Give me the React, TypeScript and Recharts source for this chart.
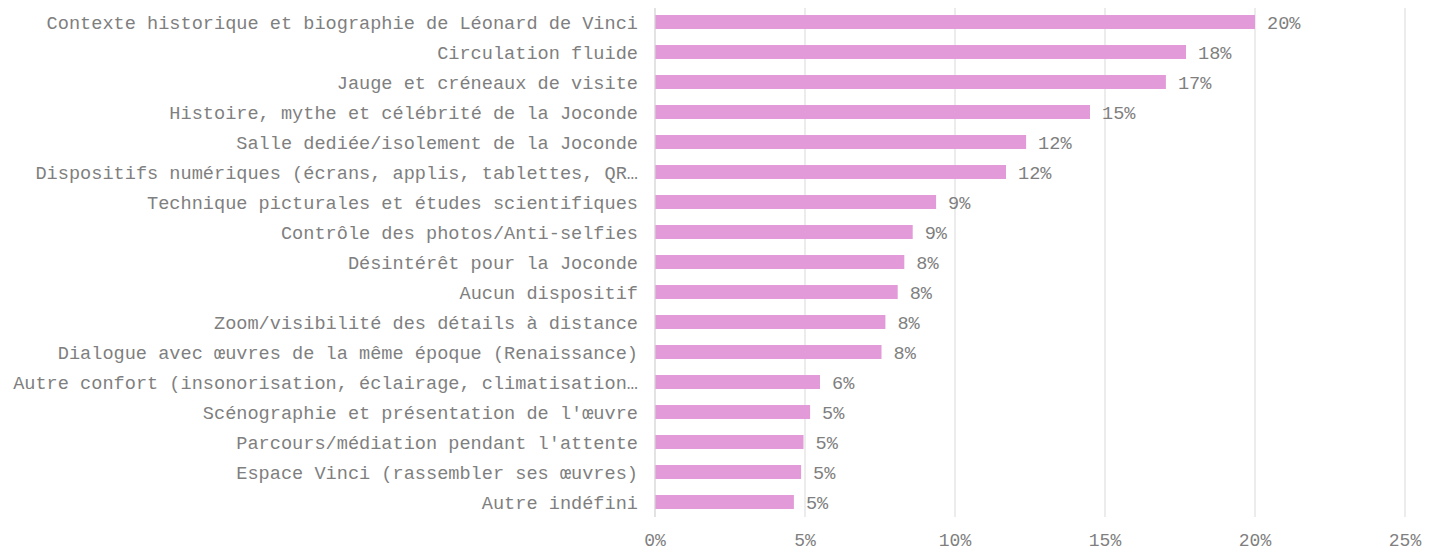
import React from "react";
import { BarChart, Bar, XAxis, YAxis, CartesianGrid, LabelList } from "recharts";

const categories = [
  "Contexte historique et biographie de Léonard de Vinci",
  "Circulation fluide",
  "Jauge et créneaux de visite",
  "Histoire, mythe et célébrité de la Joconde",
  "Salle dediée/isolement de la Joconde",
  "Dispositifs numériques (écrans, applis, tablettes, QR…",
  "Technique picturales et études scientifiques",
  "Contrôle des photos/Anti-selfies",
  "Désintérêt pour la Joconde",
  "Aucun dispositif",
  "Zoom/visibilité des détails à distance",
  "Dialogue avec œuvres de la même époque (Renaissance)",
  "Autre confort (insonorisation, éclairage, climatisation…",
  "Scénographie et présentation de l'œuvre",
  "Parcours/médiation pendant l'attente",
  "Espace Vinci (rassembler ses œuvres)",
  "Autre indéfini",
];

const values = [
  20.0, 17.7, 17.03, 14.5, 12.37, 11.7, 9.37, 8.59, 8.31, 8.09, 7.68, 7.55,
  5.5, 5.17, 4.95, 4.87, 4.63,
];

const xTicks = [0, 5, 10, 15, 20, 25];

const data = categories.map((name, i) => ({ name, value: values[i] }));

const FONT = "'Liberation Mono', 'Courier New', monospace";
const GREY = "#7f7f7f";

export default function App() {
  return (
    <div style={{ marginLeft: -8, marginTop: -8, width: 1436, height: 551, background: "#fff" }}>
      <BarChart
        width={1436}
        height={551}
        data={data}
        layout="vertical"
        margin={{ top: 7, right: 31, bottom: 0, left: 0 }}
        barCategoryGap={16}
      >
        <CartesianGrid horizontal={false} vertical={true} stroke="#d9d9d9" />
        <XAxis
          type="number"
          domain={[0, 25]}
          ticks={xTicks}
          tickFormatter={(v: number) => `${v}%`}
          axisLine={false}
          tickLine={false}
          height={34}
          tick={{ fill: GREY, fontSize: 18, fontFamily: FONT }}
          tickMargin={10}
        />
        <YAxis
          type="category"
          dataKey="name"
          width={655}
          axisLine={{ stroke: "#d9d9d9" }}
          tickLine={false}
          tickMargin={11}
          interval={0}
          tick={{ fill: GREY, fontSize: 18.6, fontFamily: FONT }}
        />
        <Bar dataKey="value" fill="#e29ad8" isAnimationActive={false} barSize={14}>
          <LabelList
            dataKey="value"
            position="right"
            offset={12}
            formatter={(v: number) => `${Math.round(v)}%`}
            style={{ fill: GREY, fontSize: 18.6, fontFamily: FONT }}
          />
        </Bar>
      </BarChart>
    </div>
  );
}
